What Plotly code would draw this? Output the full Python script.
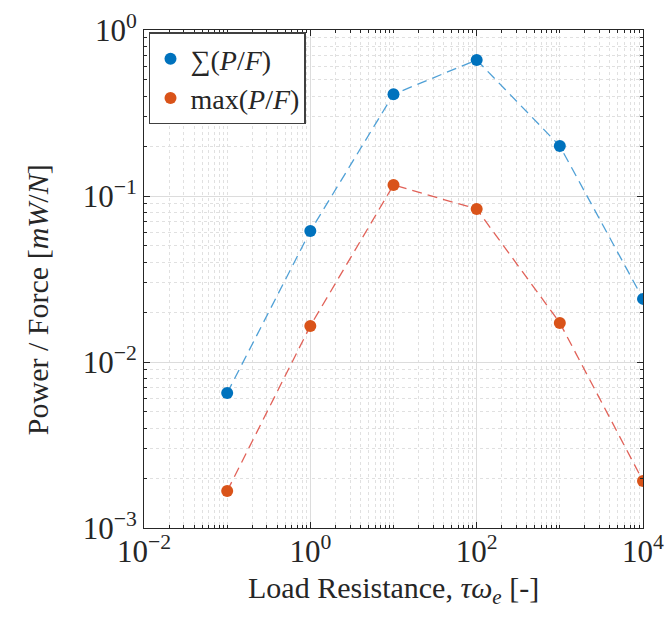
import plotly.graph_objects as go

x_vals = [0.1, 1, 10, 100, 1000, 10000]
sum_pf = [0.0065, 0.0615, 0.41, 0.66, 0.20, 0.024]
max_pf = [0.00167, 0.0165, 0.1165, 0.0835, 0.0172, 0.00192]

x_tickvals = [0.01, 1, 100, 10000]
x_ticktext = ["10<sup>−2</sup>", "10<sup>0</sup>", "10<sup>2</sup>", "10<sup>4</sup>"]
y_tickvals = [0.001, 0.01, 0.1, 1]
y_ticktext = ["10<sup>−3</sup>", "10<sup>−2</sup>", "10<sup>−1</sup>", "10<sup>0</sup>"]

x_title = "Load Resistance, <i>τω<sub>e</sub></i> [-]"
y_title = "Power / Force [<i>mW</i>/<i>N</i>]"

blue = "#0072BD"
orange = "#D95319"
font_family = "Liberation Serif, DejaVu Serif, serif"

fig = go.Figure()
fig.add_trace(go.Scatter(
    x=x_vals, y=sum_pf, mode="lines", showlegend=False,
    line=dict(color="rgba(60,150,210,0.9)", dash="10px,6px", width=1.3),
))
fig.add_trace(go.Scatter(
    x=x_vals, y=max_pf, mode="lines", showlegend=False,
    line=dict(color="rgba(222,80,70,0.9)", dash="10px,6px", width=1.3),
))
fig.add_trace(go.Scatter(
    x=x_vals, y=sum_pf, mode="markers", name="∑(<i>P</i>/<i>F</i>)",
    marker=dict(color=blue, size=12),
))
fig.add_trace(go.Scatter(
    x=x_vals, y=max_pf, mode="markers", name="max(<i>P</i>/<i>F</i>)",
    marker=dict(color=orange, size=12),
))

axis_common = dict(
    type="log", automargin=False,
    showline=True, linecolor="#262626", linewidth=1, mirror="allticks",
    ticks="inside", ticklen=6, tickcolor="#262626",
    showgrid=True, gridcolor="#dcdcdc", gridwidth=1,
    tickfont=dict(family=font_family, size=31, color="#262626"),
    zeroline=False,
    minor=dict(showgrid=True, gridcolor="#e0e0e0", griddash="dot", gridwidth=1,
               ticks="inside", ticklen=3, tickcolor="#262626", dtick="D1"),
)

fig.update_xaxes(**axis_common, range=[-2, 4], tickmode="array",
                 tickvals=x_tickvals, ticktext=x_ticktext, ticklabelstandoff=-4)
fig.update_yaxes(**axis_common, range=[-3, 0], tickmode="array",
                 tickvals=y_tickvals, ticktext=y_ticktext)

fig.add_annotation(text=x_title, xref="paper", yref="paper", x=0.5, y=-0.124,
                   xanchor="center", yanchor="middle", showarrow=False,
                   font=dict(family=font_family, size=30, color="#262626"))
fig.add_annotation(text=y_title, xref="paper", yref="paper", x=-0.212, y=0.458,
                   xanchor="center", yanchor="middle", showarrow=False, textangle=-90,
                   font=dict(family=font_family, size=30, color="#262626"))

fig.update_layout(
    width=665, height=623,
    margin=dict(l=144, r=22, t=30, b=95),
    paper_bgcolor="white", plot_bgcolor="white",
    showlegend=True,
    legend=dict(x=0.01, y=0.995, xanchor="left", yanchor="top",
                bgcolor="white", bordercolor="#404040", borderwidth=1.5,
                font=dict(family=font_family, size=28, color="#262626"),
                itemsizing="constant", tracegroupgap=0),
)

fig.write_html("out.html")
